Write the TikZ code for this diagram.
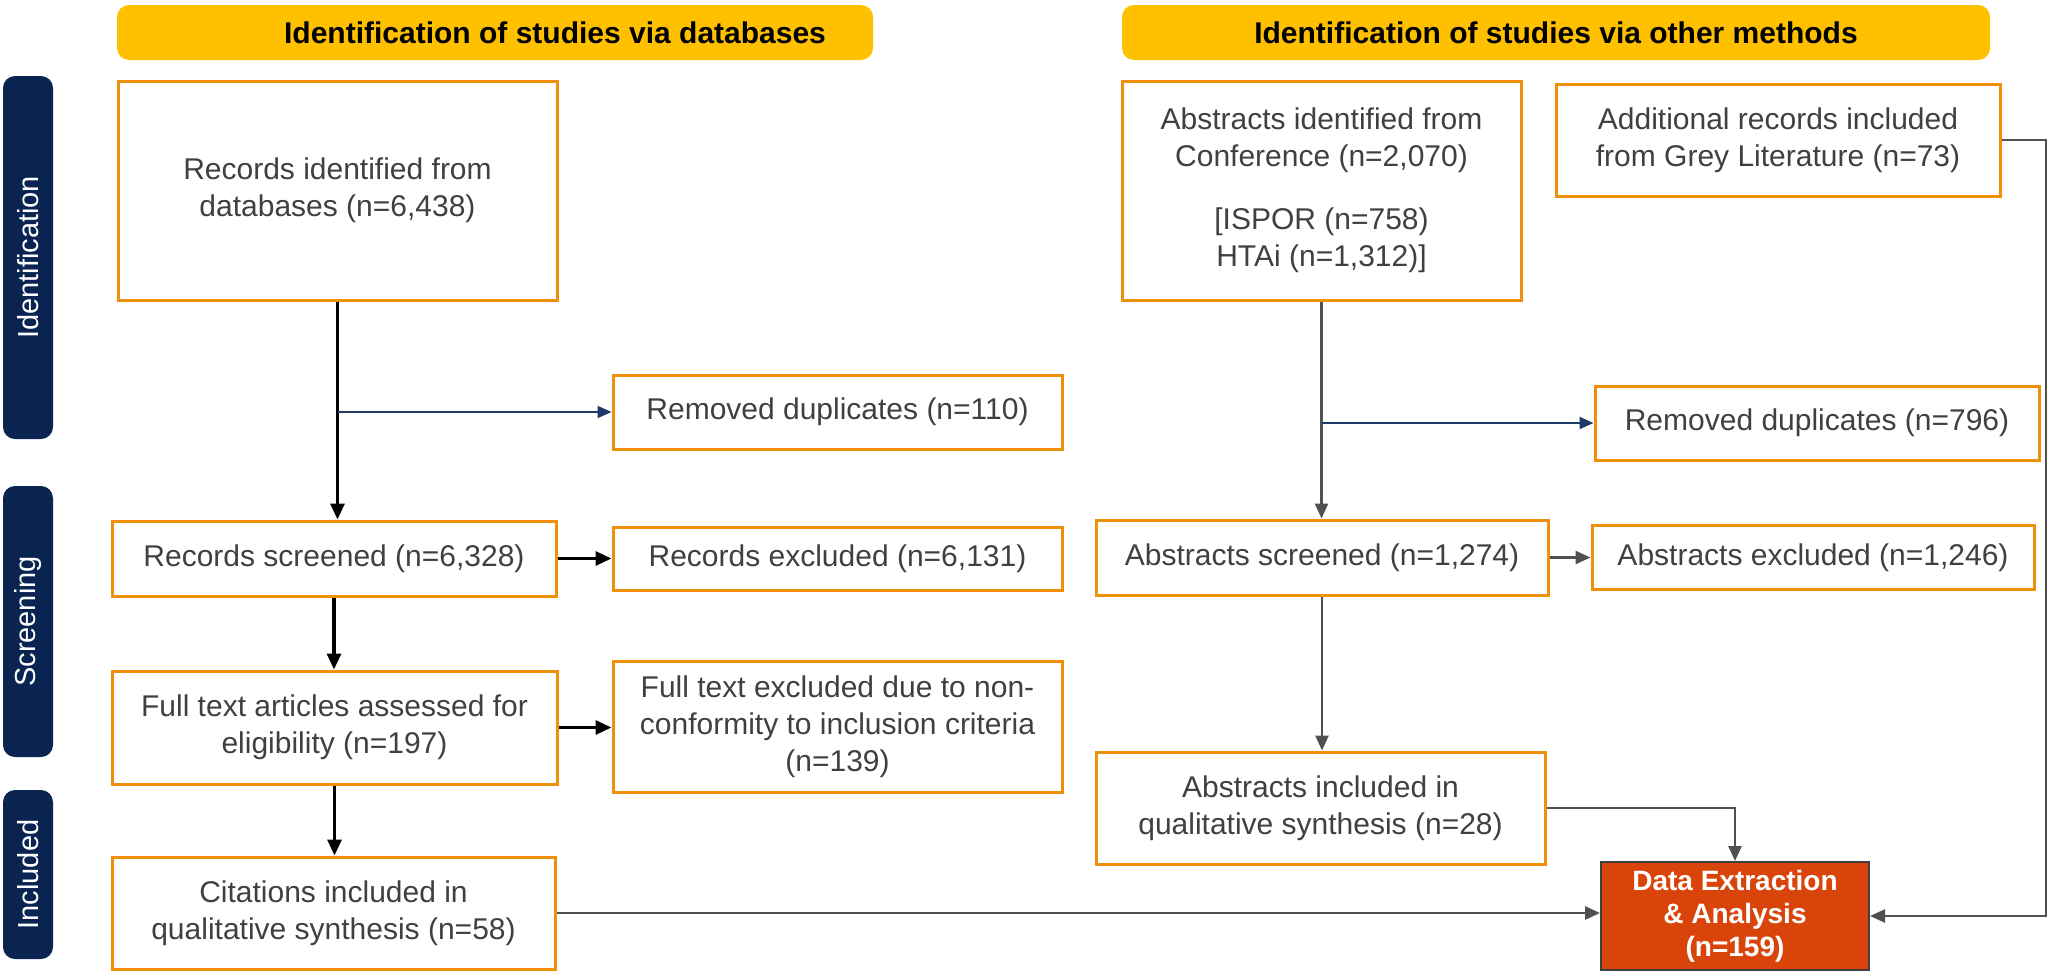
\documentclass[tikz,border=0pt]{standalone}
\usepackage{fontspec}
\setmainfont{Liberation Sans}
\usetikzlibrary{arrows.meta}
\definecolor{boxorange}{HTML}{F0900A}
\definecolor{hdryellow}{HTML}{FFC000}
\definecolor{sidenavy}{HTML}{0A2451}
\definecolor{txtgray}{HTML}{404040}
\definecolor{deafill}{HTML}{D9440A}
\definecolor{linegray}{HTML}{505050}
\definecolor{navyline}{HTML}{1F3A66}
\begin{document}
\begin{tikzpicture}[x=0.5pt,y=-0.5pt,
  flowbox/.style={draw=boxorange,line width=1.5pt,fill=white,align=center,inner sep=0pt,text=txtgray,font=\fontsize{15}{18.5}\selectfont},
  header/.style={fill=hdryellow,rounded corners=6pt,inner sep=0pt,font=\bfseries\fontsize{15}{18}\selectfont,text=black},
  sidelabel/.style={fill=sidenavy,rounded corners=6pt,inner sep=0pt,text=white,font=\fontsize{14.5}{17}\selectfont},
  blackarrow/.style={line width=1.6pt,draw=black,-{Triangle[length=8pt,width=7pt]}},
  navyarrow/.style={line width=1pt,draw=navyline,-{Triangle[length=7pt,width=6pt]}},
  grayarrow/.style={line width=1.2pt,draw=linegray,-{Triangle[length=7.5pt,width=6.5pt]}},
]
\useasboundingbox[fill=white] (0,0) rectangle (2050,975);

% headers
\node[header,minimum width=378pt,minimum height=27.5pt] (h1) at (495,32.5) {\hspace*{60pt}Identification of studies via databases};
\node[header,minimum width=434pt,minimum height=27.5pt] (h2) at (1556,32.5) {Identification of studies via other methods};

% side labels
\node[sidelabel,minimum width=25pt,minimum height=181.5pt] (sid) at (28,257.5) {\rotatebox{90}{Identification}};
\node[sidelabel,minimum width=25pt,minimum height=135.5pt] (sscr) at (28,621.5) {\rotatebox{90}{Screening}};
\node[sidelabel,minimum width=25pt,minimum height=84.5pt] (sinc) at (28,874.5) {\rotatebox{90}{Included}};

% left column
\node[flowbox,minimum width=219.5pt,minimum height=109.5pt] (rid) at (337.5,190.5) {Records identified from\\databases (n=6,438)};
\node[flowbox,minimum width=224.5pt,minimum height=37pt] (rdup) at (837.5,412) {Removed duplicates (n=110)};
\node[flowbox,minimum width=222pt,minimum height=37.5pt] (rscr) at (334,558.5) {Records screened (n=6,328)};
\node[flowbox,minimum width=224.5pt,minimum height=31.5pt] (rexc) at (837.5,558.5) {Records excluded (n=6,131)};
\node[flowbox,minimum width=222.5pt,minimum height=56.5pt] (ft) at (334.5,727.5) {Full text articles assessed for\\eligibility (n=197)};
\node[flowbox,minimum width=224.5pt,minimum height=65.5pt] (ftex) at (837.5,726.5) {Full text excluded due to non-\\conformity to inclusion criteria\\(n=139)};
\node[flowbox,minimum width=221.5pt,minimum height=56pt] (cit) at (333.5,913) {Citations included in\\qualitative synthesis (n=58)};

% right column
\node[flowbox,minimum width=199.5pt,minimum height=109.5pt] (aid) at (1321.5,190.5) {Abstracts identified from\\Conference (n=2,070)\\[13pt][ISPOR (n=758)\\HTAi (n=1,312)]};
\node[flowbox,minimum width=222pt,minimum height=56pt] (grey) at (1778,140) {Additional records included\\from Grey Literature (n=73)};
\node[flowbox,minimum width=222pt,minimum height=37pt] (adup) at (1817,423) {Removed duplicates (n=796)};
\node[flowbox,minimum width=226pt,minimum height=37.5pt] (ascr) at (1322,557.5) {Abstracts screened (n=1,274)};
\node[flowbox,minimum width=221pt,minimum height=32pt] (aexc) at (1813,557.5) {Abstracts excluded (n=1,246)};
\node[flowbox,minimum width=224.5pt,minimum height=56pt] (ainc) at (1320.5,808) {Abstracts included in\\qualitative synthesis (n=28)};
\node[draw=black!75,line width=1pt,fill=deafill,text=white,align=center,inner sep=0pt,font=\bfseries\fontsize{14}{16.5}\selectfont,minimum width=134pt,minimum height=54pt] (dea) at (1735,916) {Data Extraction\\\& Analysis\\(n=159)};

% connectors left
\draw[blackarrow] (rid.south) -- (rid.south |- rscr.north);
\coordinate (b1) at (rid.south |- rdup.west);
\draw[navyarrow] (b1) -- (rdup.west);
\draw[blackarrow] (rscr.east) -- (rscr.east -| rexc.west);
\draw[blackarrow] (rscr.south) -- (rscr.south |- ft.north);
\draw[blackarrow] (ft.east) -- (ft.east -| ftex.west);
\draw[blackarrow] (ft.south) -- (ft.south |- cit.north);
\draw[grayarrow,line width=1.4pt] (cit.east) -- (cit.east -| dea.west);

% connectors right
\draw[grayarrow] (aid.south) -- (aid.south |- ascr.north);
\coordinate (b2) at (aid.south |- adup.west);
\draw[navyarrow] (b2) -- (adup.west);
\draw[grayarrow] (ascr.east) -- (ascr.east -| aexc.west);
\draw[grayarrow] (ascr.south) -- (ascr.south |- ainc.north);
\draw[grayarrow] (ainc.east) -| (dea.north);
\coordinate (g1) at (2046,140);
\draw[grayarrow] (grey.east) -- (g1) |- (dea.east);
\end{tikzpicture}
\end{document}
